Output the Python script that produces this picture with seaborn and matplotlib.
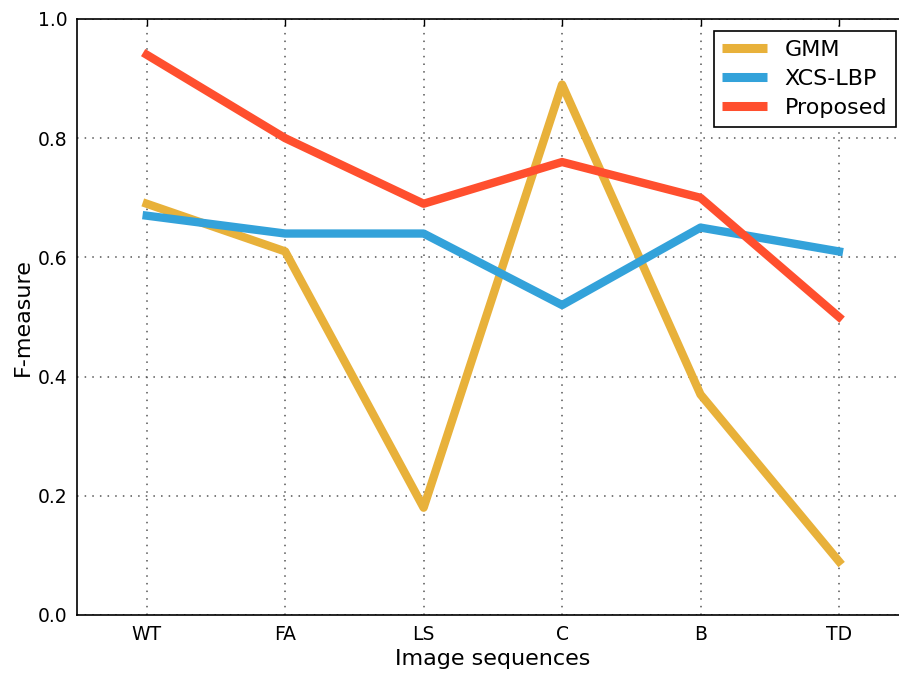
import pandas as pd
import matplotlib
matplotlib.use("Agg")
import matplotlib.pyplot as plt
import seaborn as sns

sequences = ["WT", "FA", "LS", "C", "B", "TD"]
gmm = [0.69, 0.61, 0.18, 0.89, 0.37, 0.09]
xcs_lbp = [0.67, 0.64, 0.64, 0.52, 0.65, 0.61]
proposed = [0.94, 0.80, 0.69, 0.76, 0.70, 0.50]
methods = ["GMM", "XCS-LBP", "Proposed"]
colors = ["#E8B13A", "#33A2DA", "#FF4F2E"]

sns.set_style("white")
plt.rcParams["font.family"] = ["DejaVu Sans"]
plt.rcParams["text.color"] = "black"
plt.rcParams["axes.labelcolor"] = "black"

rows = []
for name, vals in zip(methods, [gmm, xcs_lbp, proposed]):
    for s, v in zip(sequences, vals):
        rows.append({"Image sequences": s, "F-measure": v, "method": name})
df = pd.DataFrame(rows)

fig = plt.figure(figsize=(8.99, 6.73), dpi=100)
ax = fig.add_axes([0.0862, 0.0862, 0.924, 0.8856])

sns.lineplot(data=df, x="Image sequences", y="F-measure", hue="method",
             palette=dict(zip(methods, colors)), linewidth=6, sort=False, ax=ax)
for ln in ax.get_lines():
    ln.set_solid_capstyle("projecting")
    ln.set_solid_joinstyle("round")

ax.set_xlim(-0.5, 5.5)
ax.set_ylim(0, 1.0)
ax.set_yticks([0.0, 0.2, 0.4, 0.6, 0.8, 1.0])
ax.grid(True, color="#555555", linewidth=1.1, linestyle=(0, (1, 4)))
ax.set_axisbelow(True)
for sp in ax.spines.values():
    sp.set_color("black")
    sp.set_linewidth(1.2)
ax.tick_params(direction="in", length=5, width=1, top=True, right=True,
               labelsize=13.5, pad=7, colors="black")
ax.set_xlabel("Image sequences", fontsize=16)
ax.set_ylabel("F-measure", fontsize=16)

handles, labels = ax.get_legend_handles_labels()
leg = ax.legend(handles, labels, loc="upper right", bbox_to_anchor=(0.9967, 0.954),
                bbox_transform=fig.transFigure, borderaxespad=0, fontsize=16,
                fancybox=False, edgecolor="black", framealpha=1, labelspacing=0.4,
                handlelength=2.0)
leg.get_frame().set_linewidth(1.2)
for h in leg.get_lines():
    h.set_linewidth(6.5)
    h.set_solid_capstyle("butt")

fig.savefig("out.png", dpi=100)
